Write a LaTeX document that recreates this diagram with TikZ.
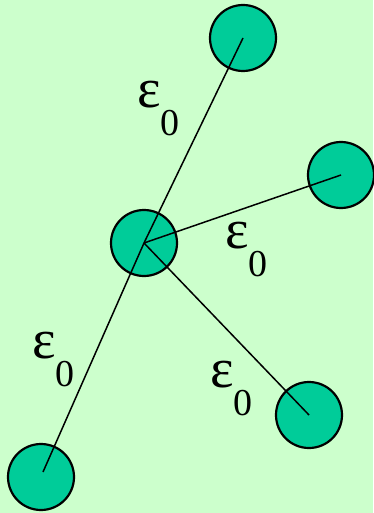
\documentclass[tikz,border=0pt]{standalone}
\usepackage{fontspec}
\setmainfont{Liberation Serif}
\definecolor{bggreen}{RGB}{204,255,204}
\definecolor{ballgreen}{RGB}{0,204,153}
\newcommand{\epsnull}{{\fontsize{56}{56}\selectfont ε\raisebox{-28pt}{\fontsize{38}{38}\selectfont 0}}}
\tikzset{
  ball/.style={circle, draw=black, line width=2.2pt, fill=ballgreen, minimum size=66pt, inner sep=0pt},
  bond/.style={line width=1.5pt},
  elabel/.style={anchor=base west, inner sep=0pt}
}
\begin{document}
\begin{tikzpicture}[x=1pt,y=-1pt]
    \useasboundingbox (0,0) rectangle (373,513);
    \fill[bggreen] (0,0) rectangle (373,513);

    \node[ball] (C) at (144,243) {};
    \node[ball] (T) at (243,38) {};
    \node[ball] (R) at (341,175) {};
    \node[ball] (BR) at (309,415) {};
    \node[ball] (BL) at (41,477) {};

    \draw[bond] (C.center) -- (T.center);
    \draw[bond] (C.center) -- (R.center);
    \draw[bond] (C.center) -- (BR.center);
    \draw[bond] (C.center) -- (43,472);

    \node[elabel] (e1) at (137,108) {\epsnull};
    \node[elabel] (e2) at (225,248) {\epsnull};
    \node[elabel] (e3) at (32,358) {\epsnull};
    \node[elabel] (e4) at (210,387) {\epsnull};
\end{tikzpicture}
\end{document}
